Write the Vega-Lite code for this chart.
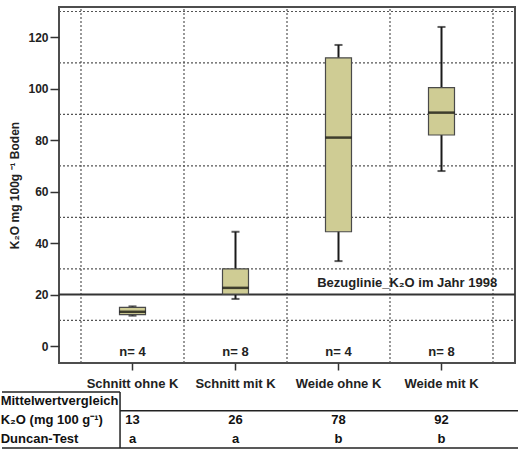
{
  "$schema": "https://vega.github.io/schema/vega-lite/v6.json",
  "background": "white",
  "padding": {"left": 0, "top": 5, "right": 0, "bottom": 0},
  "spacing": 0,
  "config": {
    "font": "Liberation Sans",
    "text": {"font": "Liberation Sans"},
    "axisY": {"grid": false, "domain": false, "tickSize": 9, "tickColor": "#333", "tickWidth": 1.5,
      "labelPadding": 2, "labelFontSize": 12, "labelFontWeight": "bold", "labelColor": "#222",
      "titleFontSize": 12, "titleFontWeight": "bold", "titleColor": "#222", "titlePadding": 6},
    "axisX": {"labelAngle": 0, "domain": false, "grid": false, "tickSize": 7, "tickColor": "#333",
      "tickWidth": 1.5, "labelPadding": 7, "labelFontSize": 13, "labelFontWeight": "bold", "labelColor": "#222"}
  },
  "datasets": {
    "boxes": [
      {"cat": "Schnitt ohne K", "min": 11.8, "q1": 12.2, "median": 13.3, "q3": 15.0, "max": 15.4, "n": "n= 4"},
      {"cat": "Schnitt mit K", "min": 18.3, "q1": 20.2, "median": 22.6, "q3": 30.0, "max": 44.4, "n": "n= 8"},
      {"cat": "Weide ohne K", "min": 33.0, "q1": 44.4, "median": 81.0, "q3": 112.0, "max": 117.0, "n": "n= 4"},
      {"cat": "Weide mit K", "min": 68.0, "q1": 82.0, "median": 90.7, "q3": 100.4, "max": 124.0, "n": "n= 8"}
    ],
    "grid": [{"g": 10}, {"g": 30}, {"g": 50}, {"g": 70}, {"g": 90}, {"g": 110}, {"g": 130}],
    "ref": [{"ref": 20, "label": "Bezuglinie_K₂O im Jahr 1998"}],
    "one": [{}],
    "table": [
      {"row": "K₂O (mg 100 g⁻¹)", "cat": "Schnitt ohne K", "val": "13"},
      {"row": "K₂O (mg 100 g⁻¹)", "cat": "Schnitt mit K", "val": "26"},
      {"row": "K₂O (mg 100 g⁻¹)", "cat": "Weide ohne K", "val": "78"},
      {"row": "K₂O (mg 100 g⁻¹)", "cat": "Weide mit K", "val": "92"},
      {"row": "Duncan-Test", "cat": "Schnitt ohne K", "val": "a"},
      {"row": "Duncan-Test", "cat": "Schnitt mit K", "val": "a"},
      {"row": "Duncan-Test", "cat": "Weide ohne K", "val": "b"},
      {"row": "Duncan-Test", "cat": "Weide mit K", "val": "b"}
    ],
    "rows": [{"row": "Mittelwertvergleich"}, {"row": "K₂O (mg 100 g⁻¹)"}, {"row": "Duncan-Test"}]
  },
  "vconcat": [
    {
      "width": 456,
      "height": 356,
      "view": {"stroke": "#4d4d4d", "strokeWidth": 2},
      "layer": [
        {
          "data": {"name": "grid"},
          "mark": {"type": "rule", "color": "#555555", "strokeWidth": 1.2, "strokeDash": [2, 2]},
          "encoding": {
            "x": {"datum": "Schnitt ohne K", "type": "nominal", "bandPosition": -0.2136,
              "scale": {"domain": ["Schnitt ohne K", "Schnitt mit K", "Weide ohne K", "Weide mit K"], "paddingInner": 0, "paddingOuter": 0.2136},
              "title": null},
            "x2": {"datum": "Weide mit K", "bandPosition": 1.2136},
            "y": {"field": "g", "type": "quantitative",
              "scale": {"domain": [-6.6, 131.75], "nice": false, "zero": false},
              "title": "K₂O mg  100g ⁻¹  Boden",
              "axis": {"values": [0, 20, 40, 60, 80, 100, 120]}}
          }
        },
        {
          "data": {"name": "boxes"},
          "mark": {"type": "rule", "color": "#555555", "strokeWidth": 1.2, "strokeDash": [2, 2]},
          "encoding": {
            "x": {"field": "cat", "type": "nominal", "bandPosition": 0, "title": null},
            "y": {"datum": -6.6, "type": "quantitative", "title": "K₂O mg  100g ⁻¹  Boden"},
            "y2": {"datum": 131.75}
          }
        },
        {
          "data": {"name": "one"},
          "mark": {"type": "rule", "color": "#555555", "strokeWidth": 1.2, "strokeDash": [2, 2]},
          "encoding": {
            "x": {"datum": "Weide mit K", "type": "nominal", "bandPosition": 1, "title": null},
            "y": {"datum": -6.6, "type": "quantitative", "title": "K₂O mg  100g ⁻¹  Boden"},
            "y2": {"datum": 131.75}
          }
        },
        {
          "data": {"name": "ref"},
          "mark": {"type": "rule", "color": "#333", "strokeWidth": 2},
          "encoding": {
            "x": {"datum": "Schnitt ohne K", "type": "nominal", "bandPosition": -0.2136, "title": null},
            "x2": {"datum": "Weide mit K", "bandPosition": 1.2136},
            "y": {"field": "ref", "type": "quantitative", "title": "K₂O mg  100g ⁻¹  Boden"}
          }
        },
        {
          "data": {"name": "ref"},
          "mark": {"type": "text", "align": "right", "baseline": "bottom", "dy": -5, "fontSize": 13, "fontWeight": "bold", "color": "#222"},
          "encoding": {
            "x": {"datum": "Weide mit K", "type": "nominal", "bandPosition": 1.04, "title": null},
            "y": {"field": "ref", "type": "quantitative", "title": "K₂O mg  100g ⁻¹  Boden"},
            "text": {"field": "label"}
          }
        },
        {
          "data": {"name": "boxes"},
          "mark": {"type": "rule", "color": "#1a1a1a", "strokeWidth": 2},
          "encoding": {
            "x": {"field": "cat", "type": "nominal", "title": null},
            "y": {"field": "min", "type": "quantitative", "title": "K₂O mg  100g ⁻¹  Boden"},
            "y2": {"field": "max"}
          }
        },
        {
          "data": {"name": "boxes"},
          "mark": {"type": "tick", "color": "#1a1a1a", "size": 8, "thickness": 2},
          "encoding": {
            "x": {"field": "cat", "type": "nominal", "title": null},
            "y": {"field": "min", "type": "quantitative", "title": "K₂O mg  100g ⁻¹  Boden"}
          }
        },
        {
          "data": {"name": "boxes"},
          "mark": {"type": "tick", "color": "#1a1a1a", "size": 8, "thickness": 2},
          "encoding": {
            "x": {"field": "cat", "type": "nominal", "title": null},
            "y": {"field": "max", "type": "quantitative", "title": "K₂O mg  100g ⁻¹  Boden"}
          }
        },
        {
          "data": {"name": "boxes"},
          "mark": {"type": "bar", "size": 26, "fill": "#cfcc94", "stroke": "#4a4a4a", "strokeWidth": 1.2},
          "encoding": {
            "x": {"field": "cat", "type": "nominal", "title": null},
            "y": {"field": "q1", "type": "quantitative", "title": "K₂O mg  100g ⁻¹  Boden"},
            "y2": {"field": "q3"}
          }
        },
        {
          "data": {"name": "boxes"},
          "mark": {"type": "tick", "color": "#000", "size": 26, "thickness": 2.5},
          "encoding": {
            "x": {"field": "cat", "type": "nominal", "title": null},
            "y": {"field": "median", "type": "quantitative", "title": "K₂O mg  100g ⁻¹  Boden"}
          }
        },
        {
          "data": {"name": "boxes"},
          "mark": {"type": "text", "fontSize": 13, "fontWeight": "bold", "color": "#222", "baseline": "middle"},
          "encoding": {
            "x": {"field": "cat", "type": "nominal", "title": null},
            "y": {"datum": -2.5, "type": "quantitative", "title": "K₂O mg  100g ⁻¹  Boden"},
            "text": {"field": "n"}
          }
        }
      ]
    },
    {
      "width": 456,
      "height": 56,
      "view": {"stroke": null},
      "layer": [
        {
          "data": {"name": "table"},
          "mark": {"type": "text", "fontSize": 13, "fontWeight": "bold", "color": "#111", "baseline": "middle"},
          "encoding": {
            "x": {"field": "cat", "type": "nominal",
              "scale": {"domain": ["Schnitt ohne K", "Schnitt mit K", "Weide ohne K", "Weide mit K"], "paddingInner": 0, "paddingOuter": 0.2136},
              "axis": null},
            "y": {"field": "row", "type": "nominal",
              "scale": {"domain": ["Mittelwertvergleich", "K₂O (mg 100 g⁻¹)", "Duncan-Test"], "paddingInner": 0, "paddingOuter": 0},
              "axis": null},
            "text": {"field": "val"}
          }
        },
        {
          "data": {"name": "rows"},
          "mark": {"type": "text", "fontSize": 13, "fontWeight": "bold", "color": "#111", "align": "left", "baseline": "middle"},
          "encoding": {
            "x": {"datum": "Schnitt ohne K", "type": "nominal", "bandPosition": -0.78, "axis": null},
            "y": {"field": "row", "type": "nominal", "axis": null},
            "text": {"field": "row"}
          }
        },
        {
          "data": {"name": "one"},
          "mark": {"type": "rule", "color": "#222", "strokeWidth": 1.5},
          "encoding": {
            "x": {"datum": "Schnitt ohne K", "type": "nominal", "bandPosition": 0.379, "axis": null},
            "y": {"datum": "Mittelwertvergleich", "type": "nominal", "bandPosition": 0, "axis": null},
            "y2": {"datum": "Duncan-Test", "bandPosition": 1}
          }
        },
        {
          "data": {"name": "one"},
          "mark": {"type": "rule", "color": "#222", "strokeWidth": 1.5},
          "encoding": {
            "x": {"datum": "Schnitt ohne K", "type": "nominal", "bandPosition": -0.767, "axis": null},
            "x2": {"datum": "Schnitt ohne K", "bandPosition": 0.379},
            "y": {"datum": "Mittelwertvergleich", "type": "nominal", "bandPosition": 0, "axis": null}
          }
        },
        {
          "data": {"name": "one"},
          "mark": {"type": "rule", "color": "#222", "strokeWidth": 1.5},
          "encoding": {
            "x": {"datum": "Schnitt ohne K", "type": "nominal", "bandPosition": 0.379, "axis": null},
            "x2": {"datum": "Weide mit K", "bandPosition": 1.26},
            "y": {"datum": "Mittelwertvergleich", "type": "nominal", "bandPosition": 1, "axis": null}
          }
        },
        {
          "data": {"name": "one"},
          "mark": {"type": "rule", "color": "#222", "strokeWidth": 1.5},
          "encoding": {
            "x": {"datum": "Schnitt ohne K", "type": "nominal", "bandPosition": -0.767, "axis": null},
            "x2": {"datum": "Weide mit K", "bandPosition": 1.26},
            "y": {"datum": "Duncan-Test", "type": "nominal", "bandPosition": 1, "axis": null}
          }
        }
      ]
    }
  ]
}
